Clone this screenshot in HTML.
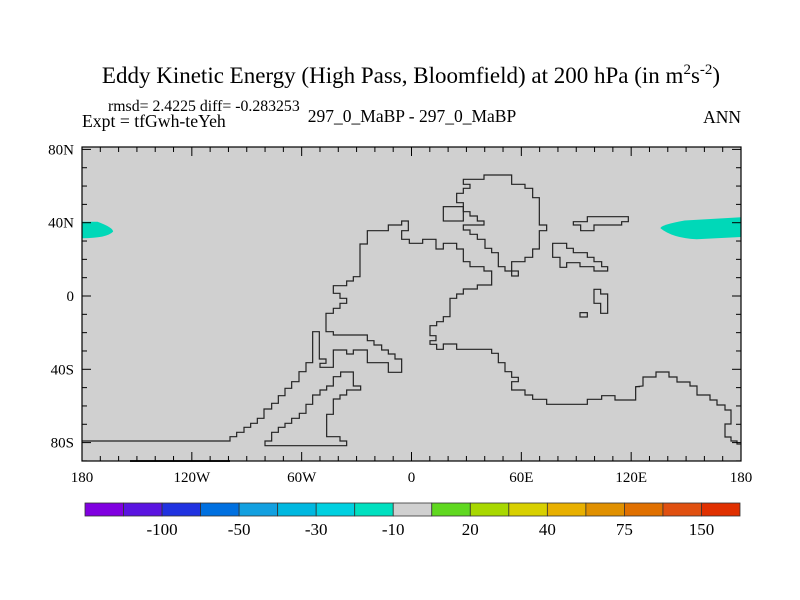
<!DOCTYPE html>
<html><head><meta charset="utf-8"><style>
html,body{margin:0;padding:0;background:#fff;}
svg{display:block;}
text{font-family:"Liberation Serif",serif;fill:#000;}
</style></head><body>
<svg id="chart" width="800" height="600" xmlns="http://www.w3.org/2000/svg">
<text x="411" y="83" font-size="23" text-anchor="middle">Eddy Kinetic Energy (High Pass, Bloomfield) at 200 hPa (in m<tspan dy="-9" font-size="15">2</tspan><tspan dy="9">s</tspan><tspan dy="-9" font-size="15">-2</tspan><tspan dy="9">)</tspan></text>
<text x="108" y="111" font-size="15.8">rmsd= 2.4225 diff= -0.283253</text>
<text x="82" y="127" font-size="17.7">Expt = tfGwh-teYeh</text>
<text x="412" y="122" font-size="17.5" text-anchor="middle">297_0_MaBP - 297_0_MaBP</text>
<text x="741" y="123" font-size="17.5" text-anchor="end">ANN</text>
<rect x="82" y="147" width="659" height="314" fill="#d0d0d0"/>
<g id="blobs"></g>
<g fill="none" stroke="#222" stroke-width="1.2">
<path transform="translate(220,170) scale(0.33333)" stroke-width="3.6" d="M-414,813 L30,813 30,800 50,800 50,787 72,787 72,772 92,772 92,760 112,760 112,745 132,745 132,717 155,717 155,700 175,700 175,677 195,677 195,655 215,655 215,635 237,635 237,605 258,605 258,578 278,578 278,485 298,485 298,567 318,567 318,580 300,580 300,592 340,592 340,540 380,540 380,552 400,552 400,540 442,540 442,578 505,578 505,607 545,607 545,567 525,567 525,552 505,552 505,540 485,540 485,525 462,525 462,512 442,512 442,495 340,495 340,485 318,485 318,430 340,430 340,415 360,415 360,400 380,400 380,385 360,385 360,370 340,370 340,347 380,347 380,333 400,333 400,320 420,320 420,222 442,222 442,182 505,182 505,165 545,165 545,153 565,153 565,182 545,182 545,208 568,208 568,220 608,220 608,208 648,208 648,237 670,237 670,220 710,220 710,237 730,237 730,275 750,275 750,290 792,290 792,303 815,303 815,345 772,345 772,357 730,357 730,372 710,372 710,385 690,385 690,440 670,440 670,455 650,455 650,467 630,467 630,497 648,497 648,512 630,512 630,523 650,523 650,538 670,538 670,522 710,522 710,538 815,538 815,550 835,550 835,578 855,578 855,605 875,605 875,622 895,622 895,635 875,635 875,660 915,660 915,675 938,675 938,688 980,688 980,703 1102,703 1102,688 1145,688 1145,677 1185,677 1185,690 1247,690 1247,650 1260,650"/>
<path d="M635.7,386.7 L643,386 643,377 656,377 656,372 669,372 669,377 677,377 677,382 690,382 690,386 697,386 697,395 710,395 710,400 717,400 717,405 725,405 725,410 731,410 731,424 725,424 725,437 731,437 731,441 737,441 737,444 741,444"/>
<g transform="translate(220,170) scale(0.33333)" stroke-width="3.6">
<path d="M135,827 L380,827 380,813 360,813 360,800 320,800 320,733 340,733 340,687 360,687 360,675 380,675 380,660 422,660 422,648 400,648 400,606 362,606 362,620 340,620 340,648 320,648 320,660 300,660 300,675 278,675 278,703 258,703 258,730 238,730 238,745 215,745 215,760 195,760 195,772 175,772 175,787 155,787 155,813 135,813 Z"/>
<path d="M730,28 L792,28 792,15 875,15 875,43 915,43 915,55 938,55 938,83 958,83 958,165 980,165 980,182 958,182 958,237 938,237 938,262 915,262 915,275 875,275 875,303 855,303 855,290 835,290 835,248 815,248 815,235 795,235 795,208 772,208 772,193 750,193 750,180 730,180 730,165 792,165 792,153 772,153 772,138 750,138 750,125 730,125 730,98 710,98 710,70 730,70 730,55 750,55 750,43 730,43 Z"/>
<rect x="670" y="110" width="60" height="43"/>
<rect x="875" y="303" width="20" height="15"/>
<path d="M1060,155 L1102,155 1102,140 1225,140 1225,155 1205,155 1205,165 1122,165 1122,182 1082,182 1082,165 1060,165 Z"/>
<path d="M998,220 L1040,220 1040,235 1060,235 1060,248 1102,248 1102,262 1122,262 1122,275 1145,275 1145,290 1163,290 1163,303 1122,303 1122,290 1080,290 1080,278 1040,278 1040,292 1020,292 1020,262 998,262 Z"/>
<path d="M1122,358 L1142,358 1142,372 1163,372 1163,430 1142,430 1142,400 1122,400 Z"/>
<rect x="1080" y="428" width="22" height="13"/>
</g>
<line x1="130" y1="461" x2="230" y2="461" stroke-width="2"/>
</g>
<rect x="82" y="147" width="659" height="314" fill="none" stroke="#000" stroke-width="1.2"/>
<g id="ticks"></g>
<g id="cbar"></g>
</svg>
<script>
const lonTicks=[-180,-120,-60,0,60,120,180];
const lonLabels=["180","120W","60W","0","60E","120E","180"];
const latTicks=[80,40,0,-40,-80];
const latLabels=["80N","40N","0","40S","80S"];
const cbarColors=["#8000e0","#5a14e0","#2032e0","#0070e0","#12a0e0","#00b8e0","#00d0e0","#00e0c0","#d0d0d0","#60d820","#a8d800","#d8d000","#e8b000","#e09000","#e07000","#e05010","#e03000"];
const cbarLabels=["-100","-50","-30","-10","20","40","75","150"];
// anomaly blobs: lon range, lat center, lat half-width
const blobLonMin=[-180,136];
const blobLonMax=[-163,180];
const blobLat=[36,37];
const blobHalf=[4.5,6];
const NS="http://www.w3.org/2000/svg";
const X0=82,X1=741;
function lx(l){return X0+(l+180)/360*(X1-X0);}
function ly(l){return 296-l*73.3/40;}
function mk(t,a,par){const e=document.createElementNS(NS,t);for(const k in a)e.setAttribute(k,a[k]);par.appendChild(e);return e;}
const bg=document.getElementById('blobs');
for(let i=0;i<blobLat.length;i++){
 const x1=lx(blobLonMin[i]),x2=lx(blobLonMax[i]),yc=ly(blobLat[i]),h=blobHalf[i]*73.3/40;
 let d;
 if(blobLonMin[i]<=-180){d="M"+x1+","+(yc-h)+" L"+(x1+(x2-x1)*0.5)+","+(yc-h)+" Q"+x2+","+(yc-h*0.3)+" "+x2+","+(yc+h*0.2)+" Q"+(x2-(x2-x1)*0.2)+","+(yc+h)+" "+x1+","+(yc+h)+" Z";}
 else{d="M"+x2+","+(yc-h)+" L"+(x1+(x2-x1)*0.3)+","+(yc-h*0.7)+" Q"+x1+","+(yc-h*0.3)+" "+x1+","+yc+" Q"+(x1+(x2-x1)*0.15)+","+(yc+h*0.9)+" "+(x1+(x2-x1)*0.45)+","+(yc+h)+" L"+x2+","+(yc+h*0.8)+" Z";}
 const p=mk('path',{d:d,fill:'#00d8b8'},bg);
 
 
}
const tg=document.getElementById('ticks');
for(let l=-180;l<=180;l+=10){
 const x=lx(l),maj=l%60===0,len=maj?9:5;
 mk('line',{x1:x,y1:461,x2:x,y2:461-len,stroke:'#000'},tg);
 mk('line',{x1:x,y1:147,x2:x,y2:147+len,stroke:'#000'},tg);
}
for(let l=-90;l<=80;l+=10){
 const y=ly(l),maj=l%40===0,len=maj?9:5;
 mk('line',{x1:82,y1:y,x2:82+len,y2:y,stroke:'#000'},tg);
 mk('line',{x1:741,y1:y,x2:741-len,y2:y,stroke:'#000'},tg);
}
lonTicks.forEach(function(l,i){const t=mk('text',{x:lx(l),y:482,'font-size':15,'text-anchor':'middle'},tg);t.textContent=lonLabels[i];
 
 });
latTicks.forEach(function(l,i){const t=mk('text',{x:74,y:ly(l)+5,'font-size':15,'text-anchor':'end'},tg);t.textContent=latLabels[i];
 
 });
const cg=document.getElementById('cbar');
const cx0=85,cw=(740-85)/cbarColors.length;
cbarColors.forEach(function(c,i){const r=mk('rect',{x:cx0+i*cw,y:503,width:cw,height:13,fill:c,stroke:'#333','stroke-width':0.8},cg);
 
 });
cbarLabels.forEach(function(s,i){const t=mk('text',{x:cx0+(2*i+2)*cw,y:535,'font-size':17,'text-anchor':'middle'},cg);t.textContent=s;
 
 });
</script>
</body></html>
